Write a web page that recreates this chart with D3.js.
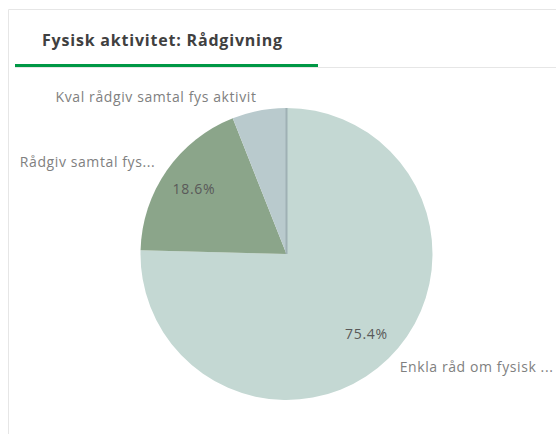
<!DOCTYPE html>
<html>
<head>
<meta charset="utf-8">
<script src="https://cdn.jsdelivr.net/npm/d3@7"></script>
<style>
  body { margin: 0; background: #fff; }
  svg { display: block; font-family: "Open Sans", sans-serif; }
</style>
</head>
<body>
<div id="container"></div>
<script>
// chart data
var categories = ["Enkla råd om fysisk ...", "Rådgiv samtal fys...", "Kval rådgiv samtal fys aktivit"];
var shares = [75.4, 18.6, 6.0];
var colors = ["#c4d8d3", "#8ba58a", "#b9cacd"];
var title = "Fysisk aktivitet: Rådgivning";

var width = 556, height = 434;

var svg = d3.select("#container")
  .append("svg")
  .attr("width", width)
  .attr("height", height);

// card frame
svg.append("path")
  .attr("d", "M8.5,434V9.5H556")
  .attr("fill", "none")
  .attr("stroke", "#e6e6e6")
  .attr("stroke-width", 1);

// title + tab underline
svg.append("text")
  .attr("x", 42)
  .attr("y", 46)
  .attr("font-size", "16px")
  .attr("font-weight", "bold")
  .attr("letter-spacing", "0.8px")
  .attr("fill", "#404040")
  .text(title);

svg.append("line")
  .attr("x1", 15).attr("x2", 556)
  .attr("y1", 67.5).attr("y2", 67.5)
  .attr("stroke", "#e6e6e6");

svg.append("line")
  .attr("x1", 15).attr("x2", 318)
  .attr("y1", 65.5).attr("y2", 65.5)
  .attr("stroke", "#009845")
  .attr("stroke-width", 3);

// pie
var cx = 286.5, cy = 254, radius = 146;

var pie = d3.pie().sort(null).value(function(d) { return d; });
var arcs = pie(shares);

var arc = d3.arc().innerRadius(0).outerRadius(radius);
var pctArc = d3.arc().innerRadius(113).outerRadius(113);
var outArc = d3.arc().innerRadius(160).outerRadius(160);

var g = svg.append("g")
  .attr("transform", "translate(" + cx + "," + cy + ")");

g.selectAll("path.slice")
  .data(arcs)
  .enter().append("path")
    .attr("class", "slice")
    .attr("d", arc)
    .attr("fill", function(d, i) { return colors[i]; });

// thin seam where the first slice starts
g.append("line")
  .attr("x1", 0).attr("y1", 0)
  .attr("x2", radius * Math.sin(arcs[0].startAngle))
  .attr("y2", -radius * Math.cos(arcs[0].startAngle))
  .attr("stroke", "#9fb1b4")
  .attr("stroke-width", 2);

// label angle: middle of slice, big slices pushed to lower right
function labelAngle(d) {
  if (d.endAngle - d.startAngle > Math.PI) return 3 * Math.PI / 4;
  return (d.startAngle + d.endAngle) / 2;
}
function at(a, d) {
  return a.centroid({ startAngle: labelAngle(d), endAngle: labelAngle(d) });
}

// percentages inside
g.selectAll("text.pct")
  .data(arcs.filter(function(d) { return d.value >= 10; }))
  .enter().append("text")
    .attr("class", "pct")
    .attr("x", function(d) { return at(pctArc, d)[0]; })
    .attr("y", function(d) { return at(pctArc, d)[1]; })
    .attr("dy", "0.35em")
    .attr("text-anchor", "middle")
    .attr("font-size", "14px")
    .attr("letter-spacing", "0.7px")
    .attr("fill", "#595959")
    .text(function(d) { return d3.format(".1f")(d.value) + "%"; });

// category labels outside
g.selectAll("text.cat")
  .data(arcs)
  .enter().append("text")
    .attr("class", "cat")
    .attr("x", function(d) { return at(outArc, d)[0]; })
    .attr("y", function(d) { return at(outArc, d)[1]; })
    .attr("dy", "0.35em")
    .attr("text-anchor", function(d) { return at(outArc, d)[0] > 0 ? "start" : "end"; })
    .attr("font-size", "14px")
    .attr("letter-spacing", "0.6px")
    .attr("fill", "#808080")
    .text(function(d, i) { return categories[i]; });
</script>
</body>
</html>
